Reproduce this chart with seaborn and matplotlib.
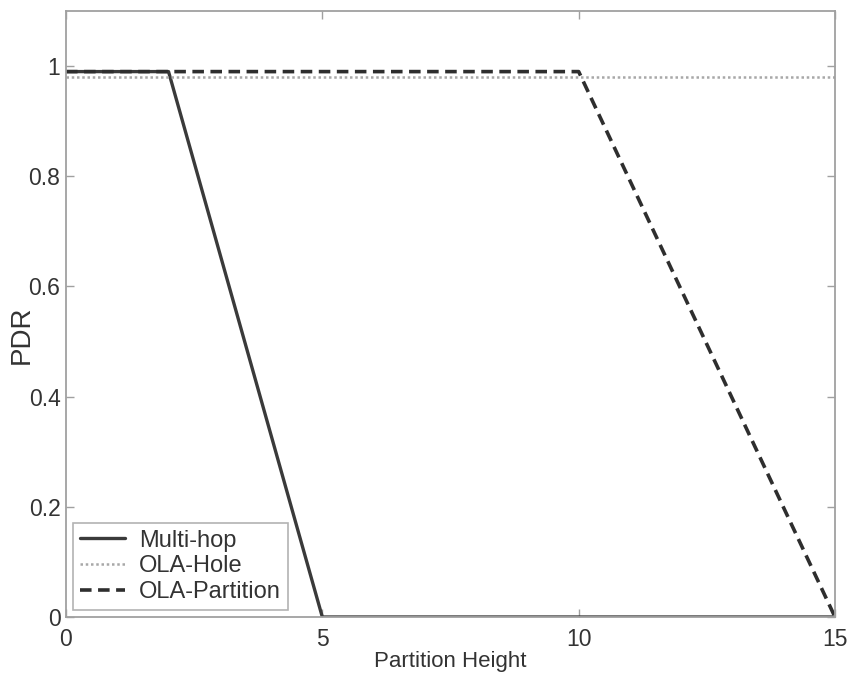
import matplotlib
matplotlib.use("Agg")
import matplotlib.pyplot as plt
import seaborn as sns
import pandas as pd

# Packet delivery ratio vs. partition height for three routing schemes
multihop_x = [0, 2, 5, 15]
multihop_y = [0.99, 0.99, 0.0, 0.0]
hole_x = [0, 15]
hole_y = [0.98, 0.98]
partition_x = [0, 10, 15]
partition_y = [0.99, 0.99, 0.0]

series_names = ["Multi-hop", "OLA-Hole", "OLA-Partition"]
x_ticks = [0, 5, 10, 15]
y_ticks = [0, 0.2, 0.4, 0.6, 0.8, 1.0]
y_tick_labels = ["0", "0.2", "0.4", "0.6", "0.8", "1"]

sns.set_theme(style="white")
plt.rcParams["font.family"] = ["Liberation Sans", "DejaVu Sans"]

frames = [
    pd.DataFrame({"x": multihop_x, "y": multihop_y, "series": series_names[0]}),
    pd.DataFrame({"x": hole_x, "y": hole_y, "series": series_names[1]}),
    pd.DataFrame({"x": partition_x, "y": partition_y, "series": series_names[2]}),
]

styles = {
    "Multi-hop": dict(color="#3a3a3a", linestyle="-", linewidth=2.4),
    "OLA-Hole": dict(color="#a8a8a8", linestyle=(0, (1, 1.1)), linewidth=1.8),
    "OLA-Partition": dict(color="#2e2e2e", linestyle=(0, (3.2, 1.8)), linewidth=2.6),
}

fig = plt.figure(figsize=(8.5, 6.73), dpi=100)
ax = fig.add_axes([66 / 850, 1 - 617 / 673, (835 - 66) / 850, (617 - 11) / 673])

for df in frames:
    name = df["series"].iloc[0]
    sns.lineplot(data=df, x="x", y="y", ax=ax, label=name, **styles[name])

ax.set_xlim(0, 15)
ax.set_ylim(0, 1.1)
ax.set_xticks(x_ticks)
ax.set_xticklabels([str(t) for t in x_ticks])
ax.set_yticks(y_ticks)
ax.set_yticklabels(y_tick_labels)

for spine in ax.spines.values():
    spine.set_color("#a0a0a0")
    spine.set_linewidth(1.3)

ax.tick_params(axis="both", which="both", direction="in", length=6, width=1,
               color="#a0a0a0", labelsize=16.5, labelcolor="#333333",
               top=True, right=True, bottom=True, left=True)
ax.tick_params(axis="x", pad=8)
ax.tick_params(axis="y", pad=4)

ax.set_xlabel("Partition Height", fontsize=16, color="#333333", labelpad=0)
ax.set_ylabel("PDR", fontsize=20, color="#333333")
ax.yaxis.set_label_coords(-0.04, 0.465)

leg = ax.legend(loc="lower left", fontsize=17, frameon=True, fancybox=False,
                edgecolor="#a0a0a0", borderpad=0.3, labelspacing=0.15,
                handlelength=1.9, handletextpad=0.6, borderaxespad=0.3)
leg.get_frame().set_linewidth(1.2)
leg._legend_box.sep = 0
for t in leg.get_texts():
    t.set_color("#333333")

fig.savefig("out.png", dpi=100)
